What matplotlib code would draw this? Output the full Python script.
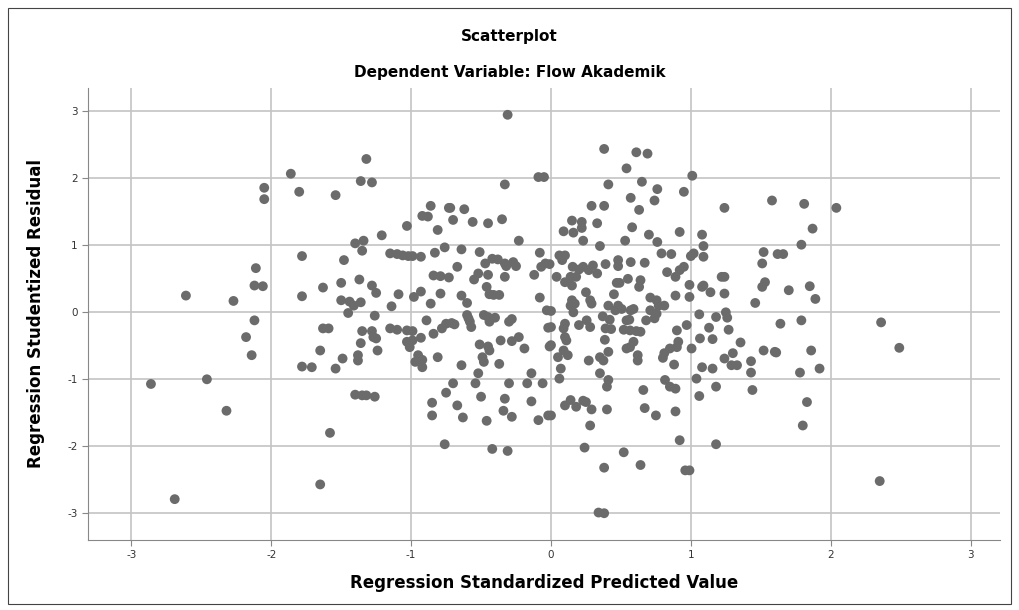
import matplotlib
matplotlib.use("Agg")
import matplotlib.pyplot as plt
from matplotlib.patches import Rectangle

# points (x = standardized predicted, y = studentized residual)
pred = [
    -1.86, -2.05, -2.05, -1.80,
    -0.31, -1.32, -1.36, -1.28, -1.54, -0.09, -0.05, -0.33, -0.86, -0.73, -0.72, -0.62,
    -0.92, -0.88, -0.70, -0.56, -0.45, -0.35, -1.03, -0.81, -1.21,
    0.38, 0.61, 0.69, 0.54, 1.01, 0.41, 0.65, 0.76, 0.95, 0.57, 0.74, 0.63, 0.29, 0.38,
    1.24, 1.58, 0.15, 0.22, 0.22, 0.33, 0.09, 0.16, 0.58, 0.70, 0.92, 1.08,
    1.81, 2.04, 1.87,
    -1.78, -2.11, -2.12, -2.06, -2.61, -2.27, -1.78, -1.63, -2.12, -2.18, -2.14, -1.63,
    -1.65, -1.78, -1.71, -2.86, -2.46,
    -2.32, -2.69, -1.65,
    -1.40, -1.35, -1.32, -1.26, -1.58, -0.85, -0.85, -0.75, -0.67, -0.63, -0.76, -0.50,
    -0.46, -0.33, -0.34, -0.28, -0.42, -0.31, -0.14, -0.09, -0.02,
    -0.70, -0.54, -0.30, -0.17, -0.06,
    0.40, 0.66, 0.85, 0.89, 1.18, 1.44, 1.06, 0.10, 0.14, 0.18, 0.23, 0.25, 0.29, 0.00,
    0.40, 0.67, 0.75, 0.89, 0.28, 0.92, 1.18, 0.24, 0.52, 0.38, 0.64, 0.96, 0.99,
    0.34, 0.38,
    1.83, 1.80, 2.35,
    1.79, 1.62, 1.66, 1.70, 1.85, 1.89, 1.64, 1.79, 1.61, 1.86, 1.78, 1.92, 2.36, 2.49,
    # dense left-centre block
    -1.40, -1.34, -1.35, -1.48, -1.15, -1.10, -1.06, -1.02, -0.99, -0.93, -0.83, -0.76,
    -0.64, -0.51, -0.23, -0.08, -0.67, -0.84, -0.79, -0.73, -0.47, -0.42, -0.38, -0.32,
    -0.27, -0.25, -0.33, -0.52, -0.55, -0.45, -0.33, -0.46, -0.12, -0.07, -0.04,
    -1.50, -1.37, -1.28, -1.25, -1.50, -1.44, -1.41, -1.36, -1.45, -1.26, -1.09, -1.14,
    -0.98, -0.93, -0.86, -0.79, -0.64, -0.60, -0.44, -0.41, -0.37, -0.08, -1.59,
    -1.35, -1.28, -1.27, -1.25, -1.36, -1.24, -1.38, -1.38, -1.49, -1.54,
    -1.15, -1.10, -1.03, -0.99, -1.03, -1.01, -0.99, -0.93, -0.95, -0.92, -0.92, -0.97,
    -0.89, -0.84, -0.78, -0.75, -0.71, -0.69, -0.81, -0.64, -0.60, -0.58, -0.57, -0.59,
    -0.48, -0.45, -0.40, -0.44, -0.30, -0.28, -0.51, -0.45, -0.44, -0.49, -0.48,
    -0.36, -0.28, -0.23, -0.19, -0.37, -0.52, -0.14, -0.03, -0.02, -0.01,
    # dense right-centre block
    0.23, 0.35, 0.53, 0.76, 1.09, 0.06, 0.10, 0.08, -0.01,
    0.155, 0.20, 0.23, 0.27, 0.30, 0.33, 0.39, 0.14, 0.18, 0.10, 0.15, 0.04,
    0.48, 0.48, 0.57, 0.67, 0.79, 0.86, 1.02, 1.00, 1.09, 0.95, 0.92, 0.89, 0.83,
    0.47, 0.49, 0.55, 0.64, 0.63, 0.25, 0.28, 0.29, 0.15, 0.14, 0.16, 0.17, 0.45,
    0.41, 0.48, 0.505, 0.46, 0.37, 0.42, 0.39, 0.43, 0.57, 0.59, 0.56, 0.54,
    0.52, 0.565, 0.61, 0.64, 0.71, 0.755, 0.81, 0.77, 0.71, 0.755, 0.74, 0.68,
    0.89, 0.99, 0.99, 1.09, 1.14, 1.08, 1.22, 1.24, 1.24, 1.52, 1.51, 1.53, 1.51, 1.46,
    1.06, 1.18, 1.25, 1.26, 0.97, 0.90, 1.13, 1.27, 1.065, 1.155, 1.355,
    0.91, 0.90, 0.85, 0.81, 0.80, 1.005, 0.88, 0.565, 0.54, 0.59, 0.62, 0.62, 0.41,
    0.385, 0.35, 0.375, 0.27, 0.10, 0.09, 0.10, 0.11, 0.09, 0.12, 0.05, 0.07,
    0.00, 0.00, 0.00, 0.20, 0.255, 0.28, 0.35, 0.41, 0.06, 0.815, 1.04, 1.08, 1.155,
    1.24, 1.30, 1.29, 1.33, 1.43, 1.43, 1.52, 1.60,
]
resid = [
    2.07, 1.86, 1.69, 1.80,
    2.95, 2.29, 1.96, 1.94, 1.75, 2.02, 2.02, 1.91, 1.59, 1.56, 1.56, 1.54,
    1.44, 1.43, 1.38, 1.35, 1.33, 1.39, 1.29, 1.23, 1.15,
    2.44, 2.39, 2.37, 2.15, 2.04, 1.91, 1.95, 1.84, 1.80, 1.71, 1.67, 1.53, 1.59, 1.59,
    1.56, 1.67, 1.37, 1.35, 1.26, 1.33, 1.21, 1.19, 1.27, 1.16, 1.20, 1.16,
    1.62, 1.56, 1.25,
    0.84, 0.66, 0.40, 0.39, 0.25, 0.17, 0.24, 0.37, -0.12, -0.37, -0.64, -0.24,
    -0.57, -0.81, -0.82, -1.07, -1.00,
    -1.47, -2.79, -2.57,
    -1.23, -1.24, -1.24, -1.26, -1.80, -1.35, -1.54, -1.20, -1.39, -1.57, -1.97, -1.26,
    -1.62, -1.29, -1.47, -1.56, -2.04, -2.07, -1.33, -1.61, -1.54,
    -1.06, -1.06, -1.06, -1.06, -1.06,
    -1.11, -1.16, -1.11, -1.14, -1.11, -1.16, -1.25, -1.39, -1.31, -1.41, -1.32, -1.34, -1.45, -1.54,
    -1.45, -1.43, -1.54, -1.48, -1.69, -1.91, -1.97, -2.02, -2.09, -2.32, -2.28, -2.36, -2.36,
    -2.99, -3.00,
    -1.34, -1.69, -2.52,
    1.01, 0.87, 0.87, 0.33, 0.39, 0.20, -0.17, -0.12, -0.60, -0.57, -0.90, -0.84, -0.15, -0.53,
    # dense left-centre block
    1.03, 1.07, 0.92, 0.78, 0.88, 0.87, 0.85, 0.84, 0.84, 0.83, 0.89, 0.97,
    0.94, 0.90, 1.07, 0.89, 0.68, 0.55, 0.54, 0.52, 0.73, 0.80, 0.79, 0.69,
    0.75, 0.69, 0.73, 0.58, 0.49, 0.56, 0.53, 0.38, 0.56, 0.68, 0.73,
    0.44, 0.49, 0.40, 0.29, 0.18, 0.16, 0.10, 0.15, -0.01, -0.05, 0.27, 0.09,
    0.23, 0.31, 0.13, 0.28, 0.25, 0.14, 0.27, 0.26, 0.26, 0.22, -0.24,
    -0.28, -0.28, -0.37, -0.39, -0.46, -0.57, -0.64, -0.72, -0.69, -0.84,
    -0.24, -0.26, -0.27, -0.28, -0.44, -0.52, -0.42, -0.38, -0.64, -0.71, -0.82, -0.74,
    -0.12, -0.32, -0.24, -0.17, -0.16, -0.18, -0.67, -0.79, -0.04, -0.14, -0.22, -0.09,
    -0.04, -0.07, -0.08, -0.14, -0.14, -0.10, -0.48, -0.51, -0.57, -0.67, -0.74,
    -0.42, -0.43, -0.37, -0.54, -0.77, -0.91, -0.91, 0.03, -0.23, -0.51,
    # dense right-centre block
    1.07, 0.99, 1.07, 1.05, 0.99, 0.85, 0.85, 0.78, 0.72,
    0.68, 0.64, 0.68, 0.63, 0.70, 0.58, 0.72, 0.53, 0.53, 0.45, 0.40, 0.53,
    0.78, 0.69, 0.75, 0.74, 0.88, 0.87, 0.88, 0.84, 0.83, 0.68, 0.63, 0.53, 0.60,
    0.44, 0.44, 0.50, 0.48, 0.38, 0.30, 0.18, 0.13, 0.18, 0.10, 0.00, 0.13, 0.27,
    0.10, 0.10, 0.05, 0.03, -0.06, -0.11, -0.24, -0.25, 0.03, 0.05, -0.11, -0.12,
    -0.26, -0.27, -0.28, -0.29, 0.22, 0.18, 0.10, 0.10, 0.03, -0.02, -0.09, -0.12,
    0.25, 0.41, 0.23, 0.40, 0.30, 0.38, 0.53, 0.53, 0.28, 0.90, 0.73, 0.45, 0.38, 0.14,
    -0.03, -0.07, 0.00, -0.08, -0.19, -0.27, -0.23, -0.26, -0.39, -0.40, -0.45,
    -0.44, -0.52, -0.54, -0.61, -0.68, -0.54, -0.78, -0.52, -0.54, -0.44, -0.64, -0.72, -0.59,
    -0.41, -0.67, -0.72, -0.72, -0.17, -0.24, -0.37, -0.42, -0.57, -0.64, -0.67, -0.84,
    -0.22, -0.49, 0.02, -0.19, -0.12, -0.22, -0.91, -1.01, -0.99, -1.01, -0.99, -0.82, -0.84,
    -0.69, -0.61, -0.79, -0.79, -0.73, -0.90, -0.57, -0.59,
]

ticks = [-3, -2, -1, 0, 1, 2, 3]

fig = plt.figure(figsize=(10.19, 6.10), dpi=100)
ax = fig.add_axes([88 / 1019, 1 - 540 / 610, 912 / 1019, 452 / 610])

ax.scatter(pred, resid, s=50, color="#6b6b6b", edgecolors="none", zorder=3)

ax.set_xlim(-3.31, 3.21)
ax.set_ylim(-3.40, 3.35)
ax.set_xticks(ticks)
ax.set_yticks(ticks)
ax.set_xticklabels([str(t) for t in ticks], fontsize=7.5)
ax.set_yticklabels([str(t) for t in ticks], fontsize=7.5)
ax.grid(True, color="#c4c4c4", linewidth=1.2, zorder=0)
ax.tick_params(length=4, color="#888888", labelcolor="#333333")
for side in ["top", "right"]:
    ax.spines[side].set_visible(False)
for side in ["left", "bottom"]:
    ax.spines[side].set_color("#888888")

ax.set_xlabel("Regression Standardized Predicted Value", fontsize=12, fontweight="bold",
              labelpad=10)
ax.set_ylabel("Regression Studentized Residual", fontsize=12, fontweight="bold", labelpad=16)

fig.text(0.5, 1 - 37 / 610, "Scatterplot", ha="center", va="center", fontsize=11,
         fontweight="bold")
fig.text(0.5, 1 - 72 / 610, "Dependent Variable: Flow Akademik", ha="center", va="center",
         fontsize=11, fontweight="bold")

# thin frame round the whole chart, as in the pasted SPSS output
fig.patches.append(Rectangle((8 / 1019, 6 / 610), 1003 / 1019, 596 / 610,
                             transform=fig.transFigure, fill=False,
                             edgecolor="#444444", linewidth=0.8))

fig.savefig("out.png", dpi=100)
